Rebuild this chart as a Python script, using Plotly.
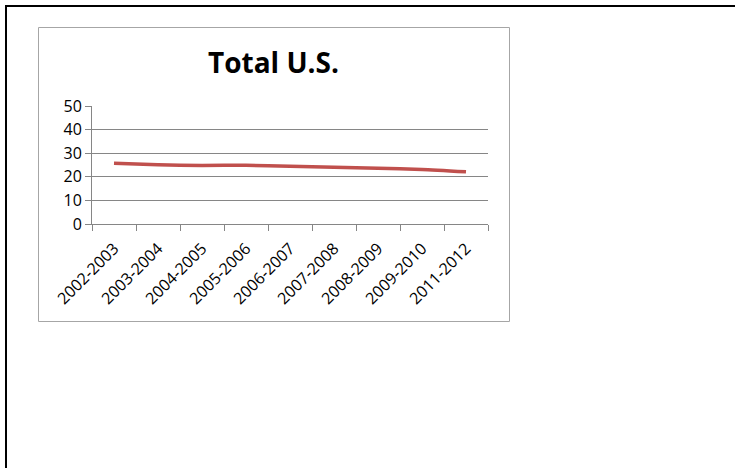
import plotly.graph_objects as go

W, H = 735, 468

categories = ["2002-2003", "2003-2004", "2004-2005", "2005-2006", "2006-2007",
              "2007-2008", "2008-2009", "2009-2010", "2011-2012"]
values = [25.7, 25.1, 24.8, 24.9, 24.5, 24.0, 23.6, 23.1, 22.1]
y_ticks = [0, 10, 20, 30, 40, 50]
title_text = "Total U.S."


def px(x):
    return x / W


def py(y):
    return 1 - y / H


fig = go.Figure()
fig.add_trace(go.Scatter(
    x=categories, y=values, mode="lines",
    line=dict(color="#C0504D", width=3.5, shape="spline", smoothing=0.6),
    hoverinfo="skip", showlegend=False,
))

font = "Open Sans, DejaVu Sans, sans-serif"

fig.update_layout(
    width=W, height=H,
    margin=dict(l=0, r=0, t=0, b=0, autoexpand=False),
    paper_bgcolor="white", plot_bgcolor="white",
    showlegend=False,
    xaxis=dict(
        domain=[px(92), px(488)],
        type="category",
        range=[-0.5, len(categories) - 0.5],
        tickson="boundaries",
        ticks="outside", ticklen=6, tickcolor="#868686", tickwidth=1,
        showline=True, linecolor="#868686", linewidth=1,
        showgrid=False, zeroline=False,
        tickangle=-45,
        ticklabelstandoff=8,
        tickfont=dict(family=font, size=16, color="#000000"),
        automargin=False,
    ),
    yaxis=dict(
        domain=[py(224), py(106)],
        range=[0, 50],
        tickvals=y_ticks,
        ticks="outside", ticklen=6, tickcolor="#868686", tickwidth=1,
        showline=True, linecolor="#868686", linewidth=1,
        showgrid=True, gridcolor="#868686", gridwidth=1,
        zeroline=False,
        tickfont=dict(family=font, size=16, color="#000000"),
        automargin=False,
    ),
    shapes=[
        # chart box
        dict(type="rect", xref="paper", yref="paper",
             x0=px(38.5), x1=px(509.5), y0=py(321.5), y1=py(27.5),
             line=dict(color="#A6A6A6", width=1), layer="below"),
        # outer frame (left and top)
        dict(type="line", xref="paper", yref="paper",
             x0=px(6), x1=px(6), y0=py(5), y1=0,
             line=dict(color="#000000", width=2)),
        dict(type="line", xref="paper", yref="paper",
             x0=px(5), x1=1, y0=py(6), y1=py(6),
             line=dict(color="#000000", width=2)),
    ],
    annotations=[
        dict(text="<b>" + title_text + "</b>", xref="paper", yref="paper",
             x=px(273), y=py(62), xanchor="center", yanchor="middle",
             showarrow=False,
             font=dict(family=font, size=28, color="#000000")),
    ],
)

fig.write_html("out.html", config={"displayModeBar": False},
               post_script="document.body.style.margin='0';")
